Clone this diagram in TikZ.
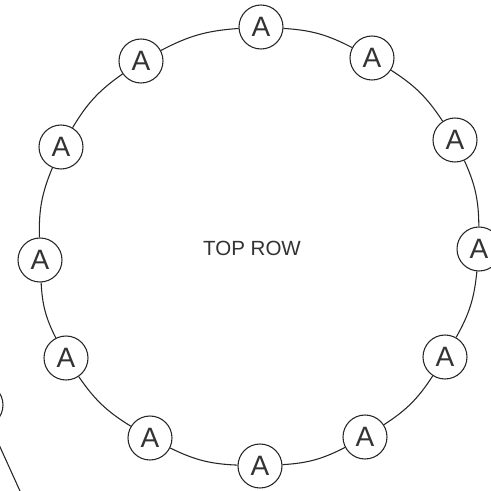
\documentclass[tikz,border=0pt]{standalone}
\usepackage{fontspec}
\setmainfont{Liberation Sans}
\definecolor{inkc}{HTML}{262626}
\definecolor{txtc}{HTML}{333333}
\tikzset{
  anode/.style={circle,draw=inkc,line width=0.8pt,fill=white,minimum size=33pt,inner sep=0pt,
    text=txtc,font=\fontsize{21pt}{21pt}\selectfont},
  ring/.style={draw=inkc,line width=0.8pt},
  label/.style={text=txtc,font=\fontsize{15.4pt}{15.4pt}\selectfont}
}
\begin{document}
\begin{tikzpicture}[x=0.75pt,y=-0.75pt]
\useasboundingbox (0,0) rectangle (491,491);
\clip (0,0) rectangle (491,491);
\fill[white] (0,0) rectangle (491,491);
\node[label] (title) at (252,248) {TOP ROW};
\node[anode] (n0) at (261,27) {A};
\node[anode] (n1) at (372,58) {A};
\node[anode] (n2) at (455,140) {A};
\node[anode] (n3) at (479,249) {A};
\node[anode] (n4) at (445,357) {A};
\node[anode] (n5) at (365,437) {A};
\node[anode] (n6) at (260,466) {A};
\node[anode] (n7) at (150,438) {A};
\node[anode] (n8) at (66,358) {A};
\node[anode] (n9) at (40,260) {A};
\node[anode] (n10) at (61,147) {A};
\node[anode] (n11) at (141,61) {A};
\node[anode] (p) at (-19,405) {};
\coordinate (e) at (39.5,534);
\foreach \a/\b in {n0/n1,n1/n2,n2/n3,n3/n4,n4/n5,n5/n6,n6/n7,n7/n8,n8/n9,n9/n10,n10/n11,n11/n0}
  \draw[ring] (\a) to[bend left=12] (\b);
\draw[ring] (p) -- (e);
\end{tikzpicture}
\end{document}
